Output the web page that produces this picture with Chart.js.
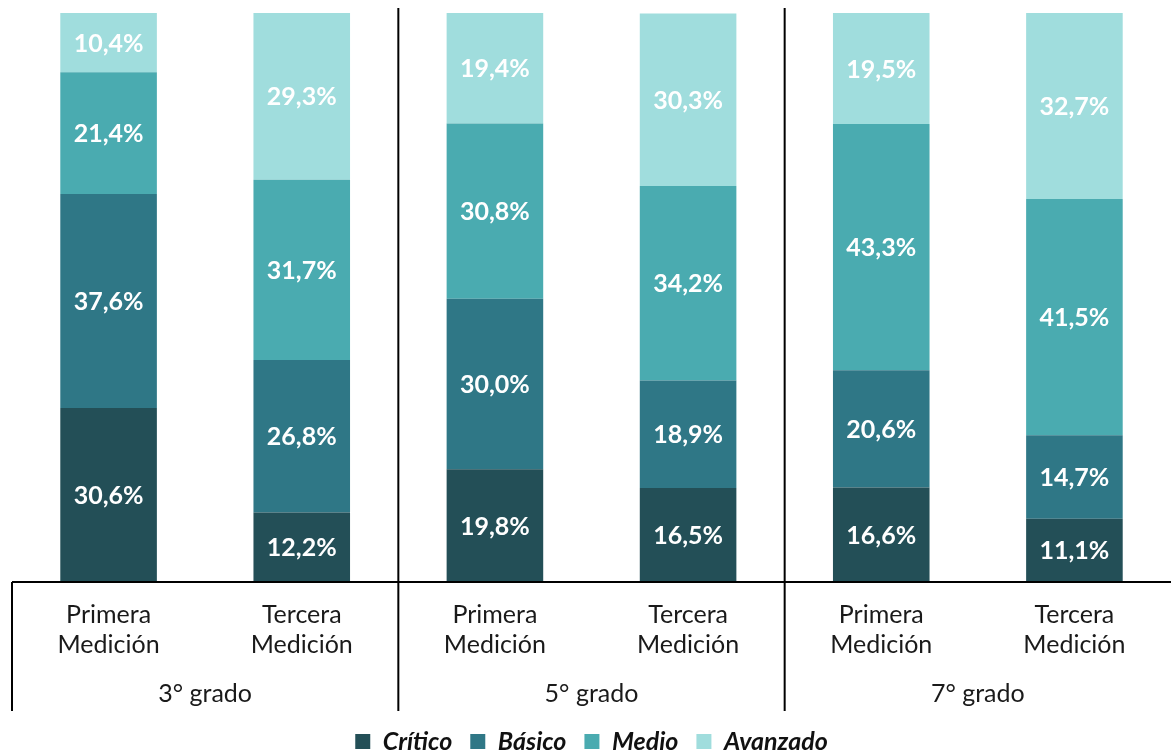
<!DOCTYPE html>
<html><head><meta charset="utf-8">
<script src="https://cdn.jsdelivr.net/npm/chart.js@4"></script>
<style>html,body{margin:0;padding:0;background:#fff}#wrap{width:1171px;height:753px}</style>
</head><body><div id="wrap"><canvas id="c" width="1171" height="753"></canvas></div>
<script>
const categories = [['Primera','Medición'],['Tercera','Medición'],['Primera','Medición'],['Tercera','Medición'],['Primera','Medición'],['Tercera','Medición']];
const groups = ['3° grado','5° grado','7° grado'];
const critico = [30.6, 12.2, 19.8, 16.5, 16.6, 11.1];
const basico = [37.6, 26.8, 30.0, 18.9, 20.6, 14.7];
const medio = [21.4, 31.7, 30.8, 34.2, 43.3, 41.5];
const avanzado = [10.4, 29.3, 19.4, 30.3, 19.5, 32.7];
const seriesNames = ['Crítico','Básico','Medio','Avanzado'];
const colors = ['#234f57','#2f7786','#4aabb0','#a0dddd'];

const fmt = v => v.toFixed(1).replace('.', ',') + '%';

const labelPlugin = {
  id: 'labels',
  afterDatasetsDraw(chart) {
    const ctx = chart.ctx;
    ctx.save();
    ctx.font = 'bold 25px Lato';
    ctx.fillStyle = '#ffffff';
    ctx.textAlign = 'center';
    ctx.textBaseline = 'middle';
    chart.data.datasets.forEach((ds, di) => {
      chart.getDatasetMeta(di).data.forEach((bar, i) => {
        const top = Math.min(bar.y, bar.base), bot = Math.max(bar.y, bar.base);
        ctx.fillText(fmt(ds.data[i]), bar.x, (top + bot) / 2 + 1);
      });
    });
    ctx.restore();
  },
  afterDraw(chart) {
    const ctx = chart.ctx;
    const xs = chart.scales.x;
    const area = chart.chartArea;
    const step = xs.getPixelForValue(1) - xs.getPixelForValue(0);
    ctx.save();
    ctx.strokeStyle = '#000';
    ctx.lineWidth = 2;
    ctx.beginPath();
    ctx.moveTo(area.left, area.bottom);
    ctx.lineTo(area.right, area.bottom);
    ctx.stroke();
    ctx.beginPath();
    const lx = xs.getPixelForValue(0) - step / 2;
    ctx.moveTo(lx, area.bottom);
    ctx.lineTo(lx, 711);
    ctx.stroke();
    [2, 4].forEach(k => {
      const x = xs.getPixelForValue(k) - step / 2;
      ctx.beginPath();
      ctx.moveTo(x, 8);
      ctx.lineTo(x, 711);
      ctx.stroke();
    });
    ctx.font = '25px Lato';
    ctx.fillStyle = '#1a1a1a';
    ctx.textAlign = 'center';
    ctx.textBaseline = 'middle';
    groups.forEach((g, gi) => {
      const x = (xs.getPixelForValue(gi * 2) + xs.getPixelForValue(gi * 2 + 1)) / 2;
      ctx.fillText(g, x, 694);
    });
    ctx.restore();
  }
};

const data = {
  labels: categories,
  datasets: [critico, basico, medio, avanzado].map((d, i) => ({
    label: seriesNames[i],
    data: d,
    backgroundColor: colors[i],
    borderWidth: 0,
    barPercentage: 0.5,
    categoryPercentage: 1.0
  }))
};

new Chart(document.getElementById('c'), {
  type: 'bar',
  data,
  plugins: [labelPlugin],
  options: {
    responsive: false,
    animation: false,
    devicePixelRatio: 1,
    layout: { padding: { left: 12, top: 13, right: 0, bottom: -11 } },
    scales: {
      x: {
        stacked: true,
        grid: { display: false },
        border: { display: false },
        ticks: { font: { family: 'Lato', size: 25, lineHeight: '30px' }, color: '#1a1a1a', padding: 10, maxRotation: 0, autoSkip: false },
        afterFit(s) { s.height = 129; }
      },
      y: {
        stacked: true,
        display: false,
        min: 0,
        max: 100
      }
    },
    plugins: {
      tooltip: { enabled: false },
      legend: {
        position: 'bottom',
        labels: {
          font: { family: 'Lato', size: 25, style: 'italic', weight: 'bold' },
          color: '#111',
          boxWidth: 15,
          boxHeight: 15,
          padding: 18
        }
      }
    }
  }
});
</script>
</body></html>
